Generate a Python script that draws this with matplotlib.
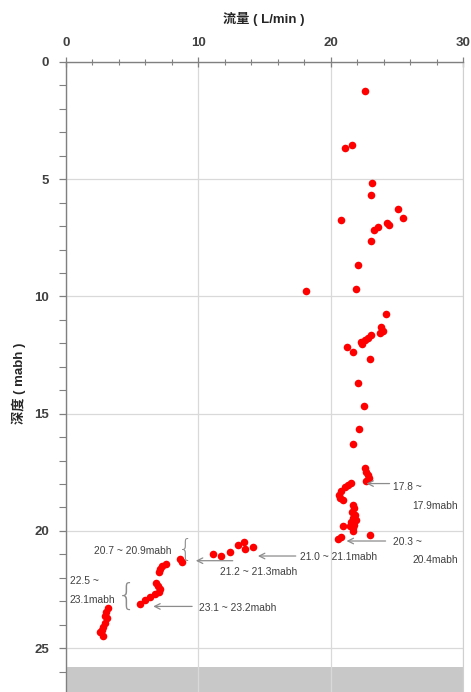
import matplotlib
matplotlib.use("Agg")
import matplotlib.pyplot as plt
from matplotlib.ticker import MultipleLocator

plt.rcParams['font.family'] = ['Liberation Sans', 'Noto Sans CJK SC', 'DejaVu Sans']

# ---- data: flow (L/min) and depth (mabh) ----
flow = [22.6, 21.1, 21.6, 23.1, 23.05, 25.06, 25.5, 20.8, 24.25, 24.4, 23.6, 23.25, 23.05,
        22.1, 18.1, 21.9, 24.15,
        23.83, 23.95, 23.7, 23.07, 22.82, 22.57, 22.32, 22.4, 21.23, 21.68, 22.94,
        22.1, 22.5, 22.16, 21.7,
        22.57, 22.69, 22.82, 22.89, 22.69,
        21.57, 21.31, 21.06, 20.8, 20.63, 20.73, 20.93,
        21.68, 21.76, 21.64, 21.81, 21.68, 21.94, 21.57, 21.76, 21.68, 21.43, 20.93, 21.68,
        22.99, 20.8, 20.55,
        11.12, 11.7, 12.38, 12.96, 13.43, 13.51, 14.14,
        8.65, 8.73,
        7.55, 7.22, 7.09, 7.04,
        6.79, 6.97, 7.09, 7.04, 6.72, 6.34, 5.96, 5.58,
        3.19, 3.02, 2.94, 3.07, 2.94, 2.82, 2.69, 2.82, 2.57]
depth = [1.24, 3.68, 3.54, 5.15, 5.67, 6.25, 6.64, 6.72, 6.85, 6.95, 7.05, 7.16, 7.65,
         8.66, 9.75, 9.67, 10.75,
         11.31, 11.46, 11.54, 11.64, 11.78, 11.85, 11.95, 12.04, 12.17, 12.35, 12.67,
         13.68, 14.68, 15.66, 16.29,
         17.33, 17.47, 17.61, 17.75, 17.85,
         17.97, 18.04, 18.14, 18.28, 18.46, 18.6, 18.68,
         18.9, 19.04, 19.19, 19.33, 19.43, 19.54, 19.62, 19.75, 19.89, 19.79, 19.79, 19.99,
         20.18, 20.27, 20.36,
         20.98, 21.07, 20.88, 20.6, 20.46, 20.78, 20.67,
         21.21, 21.31,
         21.41, 21.49, 21.63, 21.74,
         22.23, 22.37, 22.49, 22.59, 22.69, 22.8, 22.94, 23.11,
         23.3, 23.44, 23.62, 23.72, 23.91, 24.08, 24.22, 24.48, 24.29]

x_ticks = [0, 10, 20, 30]
y_ticks = [0, 5, 10, 15, 20, 25]
bedrock_depth = 25.8

# arrow annotations: (tip_x, tip_y, tail_x)
arrow_notes = [
    (22.7, 17.98, 24.45),
    (21.2, 20.43, 24.15),
    (14.5, 21.07, 17.36),
    (9.81, 21.27, 12.6),
    (6.59, 23.22, 9.53),
]
arrow_texts = [
    ("17.8 ~", 24.7, 18.12, "left"),
    ("17.9mabh", 26.2, 18.93, "left"),
    ("20.3 ~", 24.7, 20.47, "left"),
    ("20.4mabh", 26.2, 21.24, "left"),
    ("21.0 ~ 21.1mabh", 17.66, 21.12, "left"),
    ("21.2 ~ 21.3mabh", 11.6, 21.76, "left"),
    ("23.1 ~ 23.2mabh", 10.06, 23.3, "left"),
]
brace_texts = [
    ("20.7 ~ 20.9mabh", 8.0, 20.84, "right"),
    ("22.5 ~", 0.3, 22.13, "left"),
    ("23.1mabh", 0.3, 22.93, "left"),
]
braces = [  # x, y, size
    (9.0, 20.82, 17),
    (4.6, 22.8, 22),
]

W, H = 471, 692
fig = plt.figure(figsize=(W / 100, H / 100), dpi=100)
ax = fig.add_axes([66 / W, 0, (463 - 66) / W, (H - 62) / H])

ax.axhspan(bedrock_depth, 30, color='#c8c8c8', lw=0, zorder=0)
ax.scatter(flow, depth, s=30, color='#ff0000', lw=0, zorder=3)

ax.set_xlim(0, 30)
ax.set_ylim(26.87, 0)
ax.xaxis.tick_top()
ax.xaxis.set_label_position('top')
ax.set_xticks(x_ticks)
ax.set_yticks(y_ticks)
ax.xaxis.set_minor_locator(MultipleLocator(2))
ax.yaxis.set_minor_locator(MultipleLocator(1))
ax.grid(True, which='major', color='#d9d9d9', lw=0.9, zorder=1)
ax.set_axisbelow(True)

for side in ['top', 'left']:
    ax.spines[side].set_color('#808080')
    ax.spines[side].set_linewidth(1.0)
ax.spines['right'].set_color('#d0d0d0')
ax.spines['bottom'].set_visible(False)

ax.tick_params(axis='x', which='major', direction='inout', length=7, width=0.9,
               color='#808080', pad=6, labelsize=9.5, labelcolor='#404040')
ax.tick_params(axis='x', which='minor', direction='inout', length=4, width=0.8, color='#808080')
ax.tick_params(axis='y', which='major', direction='out', length=5, width=0.9,
               color='#808080', pad=7, labelsize=9.5, labelcolor='#404040')
ax.tick_params(axis='y', which='minor', direction='out', length=5, width=0.8, color='#808080')
for lab in ax.get_xticklabels() + ax.get_yticklabels():
    lab.set_fontweight('bold')

fig.text(264 / W, 1 - 19 / H, '流量 ( L/min )', ha='center', va='center',
         fontsize=9.5, fontweight='bold', color='#262626')
fig.text(19 / W, 1 - 383 / H, '深度 ( mabh )', ha='center', va='center', rotation=90,
         fontsize=9.5, fontweight='bold', color='#262626')

for tx, ty, tail in arrow_notes:
    ax.annotate('', xy=(tx, ty), xytext=(tail, ty),
                arrowprops=dict(arrowstyle='->', color='#8c8c8c', lw=0.9,
                                shrinkA=0, shrinkB=0), zorder=4)
for s, x, y, ha in arrow_texts + brace_texts:
    ax.text(x, y, s, ha=ha, va='center', fontsize=7.4, color='#404040', zorder=5)
for x, y, size in braces:
    ax.text(x, y, '{', ha='center', va='center', fontsize=size, color='#8c8c8c',
            family='DejaVu Sans', fontweight='light', zorder=5)

fig.savefig('out.png', dpi=100)
